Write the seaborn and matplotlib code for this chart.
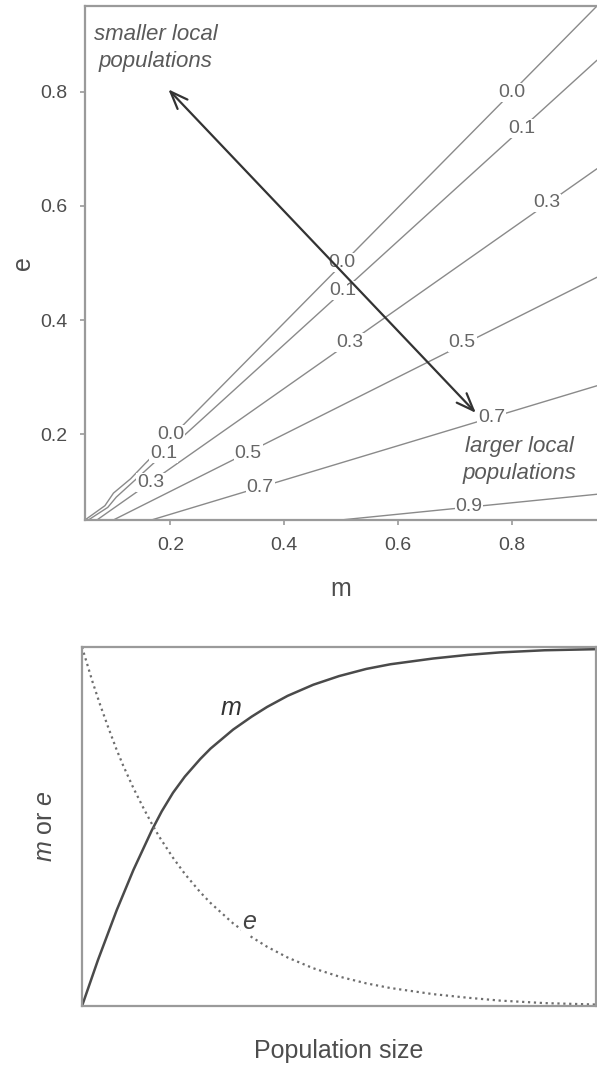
import pandas as pd
import matplotlib.pyplot as plt
import seaborn as sns

# contour lines of the top panel (m, e)
c00_m = [0.05, 0.085, 0.10, 0.13, 0.155, 0.95]
c00_e = [0.05, 0.075, 0.097, 0.122, 0.148, 0.95]
c01_m = [0.056, 0.09, 0.105, 0.95]
c01_e = [0.05, 0.072, 0.09, 0.855]
c03_m = [0.071, 0.95]
c03_e = [0.05, 0.665]
c05_m = [0.10, 0.95]
c05_e = [0.05, 0.475]
c07_m = [0.167, 0.95]
c07_e = [0.05, 0.285]
c09_m = [0.50, 0.95]
c09_e = [0.05, 0.095]

# contour labels (text, m, e)
lab_txt = ['0.0', '0.1', '0.3', '0.0', '0.1', '0.3', '0.5', '0.7', '0.9',
           '0.0', '0.1', '0.3', '0.5', '0.7']
lab_m = [0.80, 0.818, 0.862, 0.501, 0.503, 0.515, 0.713, 0.765, 0.725,
         0.20, 0.188, 0.165, 0.337, 0.358]
lab_e = [0.799, 0.736, 0.605, 0.50, 0.452, 0.36, 0.36, 0.23, 0.073,
         0.199, 0.167, 0.115, 0.167, 0.106]

# bottom panel curves
m_x = [0, 0.031, 0.0675, 0.1, 0.136, 0.155, 0.177, 0.2, 0.23, 0.25, 0.294,
       0.33, 0.36, 0.4, 0.45, 0.5, 0.553, 0.6, 0.683, 0.75, 0.813, 0.9, 1.0]
m_vals = [0, 0.128, 0.267, 0.379, 0.49, 0.542, 0.594, 0.639, 0.688, 0.717,
          0.77, 0.806, 0.833, 0.864, 0.895, 0.919, 0.939, 0.952, 0.968, 0.978,
          0.985, 0.991, 0.994]
e_x = [0, 0.02, 0.035, 0.05, 0.067, 0.08, 0.1, 0.12, 0.136, 0.15, 0.177, 0.2,
       0.23, 0.25, 0.294, 0.33, 0.36, 0.4, 0.45, 0.5, 0.553, 0.6, 0.683, 0.75,
       0.813, 0.9, 1.0]
e_vals = [1.0, 0.905, 0.84, 0.78, 0.715, 0.67, 0.607, 0.55, 0.507, 0.472,
          0.413, 0.368, 0.317, 0.287, 0.23, 0.192, 0.165, 0.135, 0.105, 0.082,
          0.063, 0.05, 0.033, 0.023, 0.015, 0.008, 0.004]

sns.set_style('white')
plt.rcParams['font.family'] = ['Liberation Sans', 'DejaVu Sans']
plt.rcParams['mathtext.fontset'] = 'custom'
plt.rcParams['mathtext.rm'] = 'Liberation Sans'
plt.rcParams['mathtext.it'] = 'Liberation Sans:italic'

txt_col = '#4d4d4d'
spine_col = '#9a9a9a'
line_col = '#8a8a8a'

fig = plt.figure(figsize=(5.97, 10.67), dpi=100)
ax1 = fig.add_axes([0.1424, 0.5127, 0.8576, 0.4817])
ax2 = fig.add_axes([0.1374, 0.0572, 0.8609, 0.3364])

##top panel
lines = [(c00_m, c00_e), (c01_m, c01_e), (c03_m, c03_e),
         (c05_m, c05_e), (c07_m, c07_e), (c09_m, c09_e)]
for lm, le in lines:
    sns.lineplot(x=lm, y=le, ax=ax1, color=line_col, lw=1.0, sort=False)

for t, lm, le in zip(lab_txt, lab_m, lab_e):
    ax1.text(lm, le, t, fontsize=14, color='#666666', ha='center', va='center',
             zorder=3, bbox=dict(boxstyle='square,pad=0.05', fc='white', ec='none'))

ax1.annotate('', xy=(0.1965, 0.804), xytext=(0.737, 0.2375),
             arrowprops=dict(arrowstyle='<->,head_length=0.9,head_width=0.35',
                             color='#333333', lw=1.6, shrinkA=0, shrinkB=0,
                             mutation_scale=14), zorder=5)
ax1.text(0.174, 0.876, 'smaller local\npopulations', fontsize=16, style='italic',
         color='#5a5a5a', ha='center', va='center', linespacing=1.35)
ax1.text(0.814, 0.155, 'larger local\npopulations', fontsize=16, style='italic',
         color='#5a5a5a', ha='center', va='center', linespacing=1.35)

ax1.set_xlim(0.05, 0.95)
ax1.set_ylim(0.05, 0.95)
ax1.set_xticks([0.2, 0.4, 0.6, 0.8])
ax1.set_yticks([0.2, 0.4, 0.6, 0.8])
ax1.set_xticklabels(['0.2', '0.4', '0.6', '0.8'])
ax1.set_yticklabels(['0.2', '0.4', '0.6', '0.8'])
ax1.tick_params(labelsize=14, colors=spine_col, labelcolor=txt_col,
                length=3.5, width=1.2, pad=9, bottom=True, left=True)
ax1.set_xlabel('m', fontsize=18, color=txt_col, labelpad=16)
ax1.set_ylabel('e', fontsize=18, color=txt_col, labelpad=4)
for s in ['left', 'top', 'bottom']:
    ax1.spines[s].set_color(spine_col)
    ax1.spines[s].set_linewidth(1.6)
ax1.spines['right'].set_visible(False)

##bottom panel
sns.lineplot(x=m_x, y=m_vals, ax=ax2, color='#4a4a4a', lw=1.8)
sns.lineplot(x=e_x, y=e_vals, ax=ax2, color='#6e6e6e', lw=1.6, linestyle=':')
ax2.text(0.29, 0.83, 'm', fontsize=18, style='italic', color='#333333',
         ha='center', va='center')
ax2.text(0.325, 0.235, 'e', fontsize=18, style='italic', color='#444444',
         ha='center', va='center',
         bbox=dict(boxstyle='square,pad=0.05', fc='white', ec='none'))
ax2.set_xlim(0, 1)
ax2.set_ylim(0, 1)
ax2.set_xticks([])
ax2.set_yticks([])
ax2.set_xlabel('Population size', fontsize=18, color=txt_col, labelpad=24)
ax2.set_ylabel('$m$ or $e$', fontsize=18, color=txt_col, labelpad=18)
for s in ax2.spines.values():
    s.set_color(spine_col)
    s.set_linewidth(1.6)

fig.savefig('out.png', dpi=100)
